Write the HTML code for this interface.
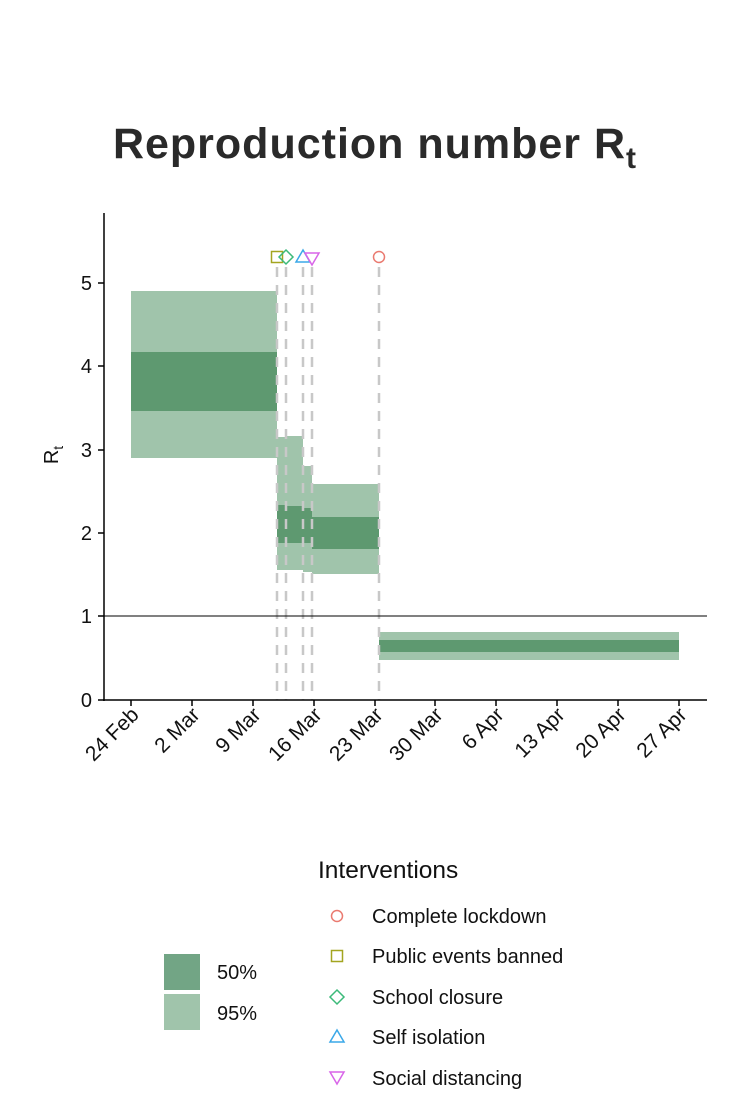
<!DOCTYPE html>
<html><head><style>body{margin:0;background:#fff}svg{display:block}text{font-family:"Liberation Sans",sans-serif}</style></head><body>
<svg width="738" height="1106" viewBox="0 0 738 1106">
<text x="375" y="158" text-anchor="middle" font-size="43" font-weight="bold" fill="#2a2a2a" letter-spacing="1">Reproduction number R<tspan font-size="30" dy="10">t</tspan></text>
<g fill="#a0c4ab">
<rect x="131" y="291" width="146" height="167"/>
<rect x="277" y="437" width="9" height="133"/>
<rect x="286" y="436" width="17" height="134"/>
<rect x="303" y="466" width="9" height="106"/>
<rect x="312" y="484" width="67" height="90"/>
<rect x="379" y="632" width="300" height="28"/>
</g>
<g fill="#5e9970">
<rect x="131" y="352" width="146" height="59"/>
<rect x="277" y="505" width="9" height="38"/>
<rect x="286" y="506" width="17" height="37"/>
<rect x="303" y="508" width="9" height="35"/>
<rect x="312" y="517" width="67" height="32"/>
<rect x="379" y="640" width="300" height="12"/>
</g>
<g stroke="#c8c8c8" stroke-width="2.5" stroke-dasharray="10,8">
<line x1="277" y1="267" x2="277" y2="700"/><line x1="286" y1="267" x2="286" y2="700"/>
<line x1="303" y1="267" x2="303" y2="700"/><line x1="312" y1="267" x2="312" y2="700"/>
<line x1="379" y1="267" x2="379" y2="700"/>
</g>
<g fill="none" stroke-width="1.5">
<rect x="271.5" y="251.5" width="11" height="11" stroke="#a3a520"/>
<path d="M286 250 L293 257 L286 264 L279 257Z" stroke="#3cba7a"/>
<path d="M303 250 L310 262 L296 262Z" stroke="#3aa8e8"/>
<path d="M305 253 L319 253 L312 265Z" stroke="#d865e8"/>
<circle cx="379" cy="257" r="5.5" stroke="#ea7a70"/>
</g>
<line x1="104" y1="616" x2="707" y2="616" stroke="#000" stroke-width="1"/>
<g stroke="#000" stroke-width="1.5">
<line x1="104" y1="213" x2="104" y2="701"/><line x1="103" y1="700" x2="707" y2="700"/>
<line x1="98" y1="700" x2="104" y2="700"/><line x1="98" y1="616" x2="104" y2="616"/><line x1="98" y1="533" x2="104" y2="533"/><line x1="98" y1="450" x2="104" y2="450"/><line x1="98" y1="366" x2="104" y2="366"/><line x1="98" y1="283" x2="104" y2="283"/>
</g>
<g font-size="20" text-anchor="end" fill="#111">
<text x="92" y="707">0</text><text x="92" y="623">1</text><text x="92" y="540">2</text><text x="92" y="457">3</text><text x="92" y="373">4</text><text x="92" y="290">5</text>
</g>
<text transform="translate(58,455) rotate(-90)" font-size="20" text-anchor="middle" fill="#111">R<tspan font-size="14" dy="5">t</tspan></text>
<g stroke="#000" stroke-width="1.5">
<line x1="131" y1="700" x2="131" y2="706"/><line x1="192" y1="700" x2="192" y2="706"/><line x1="253" y1="700" x2="253" y2="706"/><line x1="314" y1="700" x2="314" y2="706"/><line x1="375" y1="700" x2="375" y2="706"/><line x1="435" y1="700" x2="435" y2="706"/><line x1="496" y1="700" x2="496" y2="706"/><line x1="557" y1="700" x2="557" y2="706"/><line x1="618" y1="700" x2="618" y2="706"/><line x1="679" y1="700" x2="679" y2="706"/>
</g>
<g font-size="21" text-anchor="end" fill="#111">
<text transform="translate(140,716) rotate(-45)">24 Feb</text>
<text transform="translate(201,716) rotate(-45)">2 Mar</text>
<text transform="translate(262,716) rotate(-45)">9 Mar</text>
<text transform="translate(323,716) rotate(-45)">16 Mar</text>
<text transform="translate(384,716) rotate(-45)">23 Mar</text>
<text transform="translate(444,716) rotate(-45)">30 Mar</text>
<text transform="translate(505,716) rotate(-45)">6 Apr</text>
<text transform="translate(566,716) rotate(-45)">13 Apr</text>
<text transform="translate(627,716) rotate(-45)">20 Apr</text>
<text transform="translate(688,716) rotate(-45)">27 Apr</text>
</g>
<text x="318" y="878" font-size="24.5" fill="#111">Interventions</text>
<g fill="none" stroke-width="1.5">
<circle cx="337" cy="916" r="5.5" stroke="#ea7a70"/>
<rect x="331.5" y="950.5" width="11" height="11" stroke="#a3a520"/>
<path d="M337 990 L344 997 L337 1004 L330 997Z" stroke="#3cba7a"/>
<path d="M337 1030 L344 1042 L330 1042Z" stroke="#3aa8e8"/>
<path d="M330 1072 L344 1072 L337 1084Z" stroke="#d865e8"/>
</g>
<g font-size="20" fill="#111">
<text x="372" y="923">Complete lockdown</text>
<text x="372" y="963">Public events banned</text>
<text x="372" y="1004">School closure</text>
<text x="372" y="1044">Self isolation</text>
<text x="372" y="1085">Social distancing</text>
</g>
<rect x="164" y="954" width="36" height="36" fill="#72a585"/>
<rect x="164" y="994" width="36" height="36" fill="#a0c4ab"/>
<text x="217" y="979" font-size="20" fill="#111">50%</text>
<text x="217" y="1020" font-size="20" fill="#111">95%</text>
</svg>
</body></html>
